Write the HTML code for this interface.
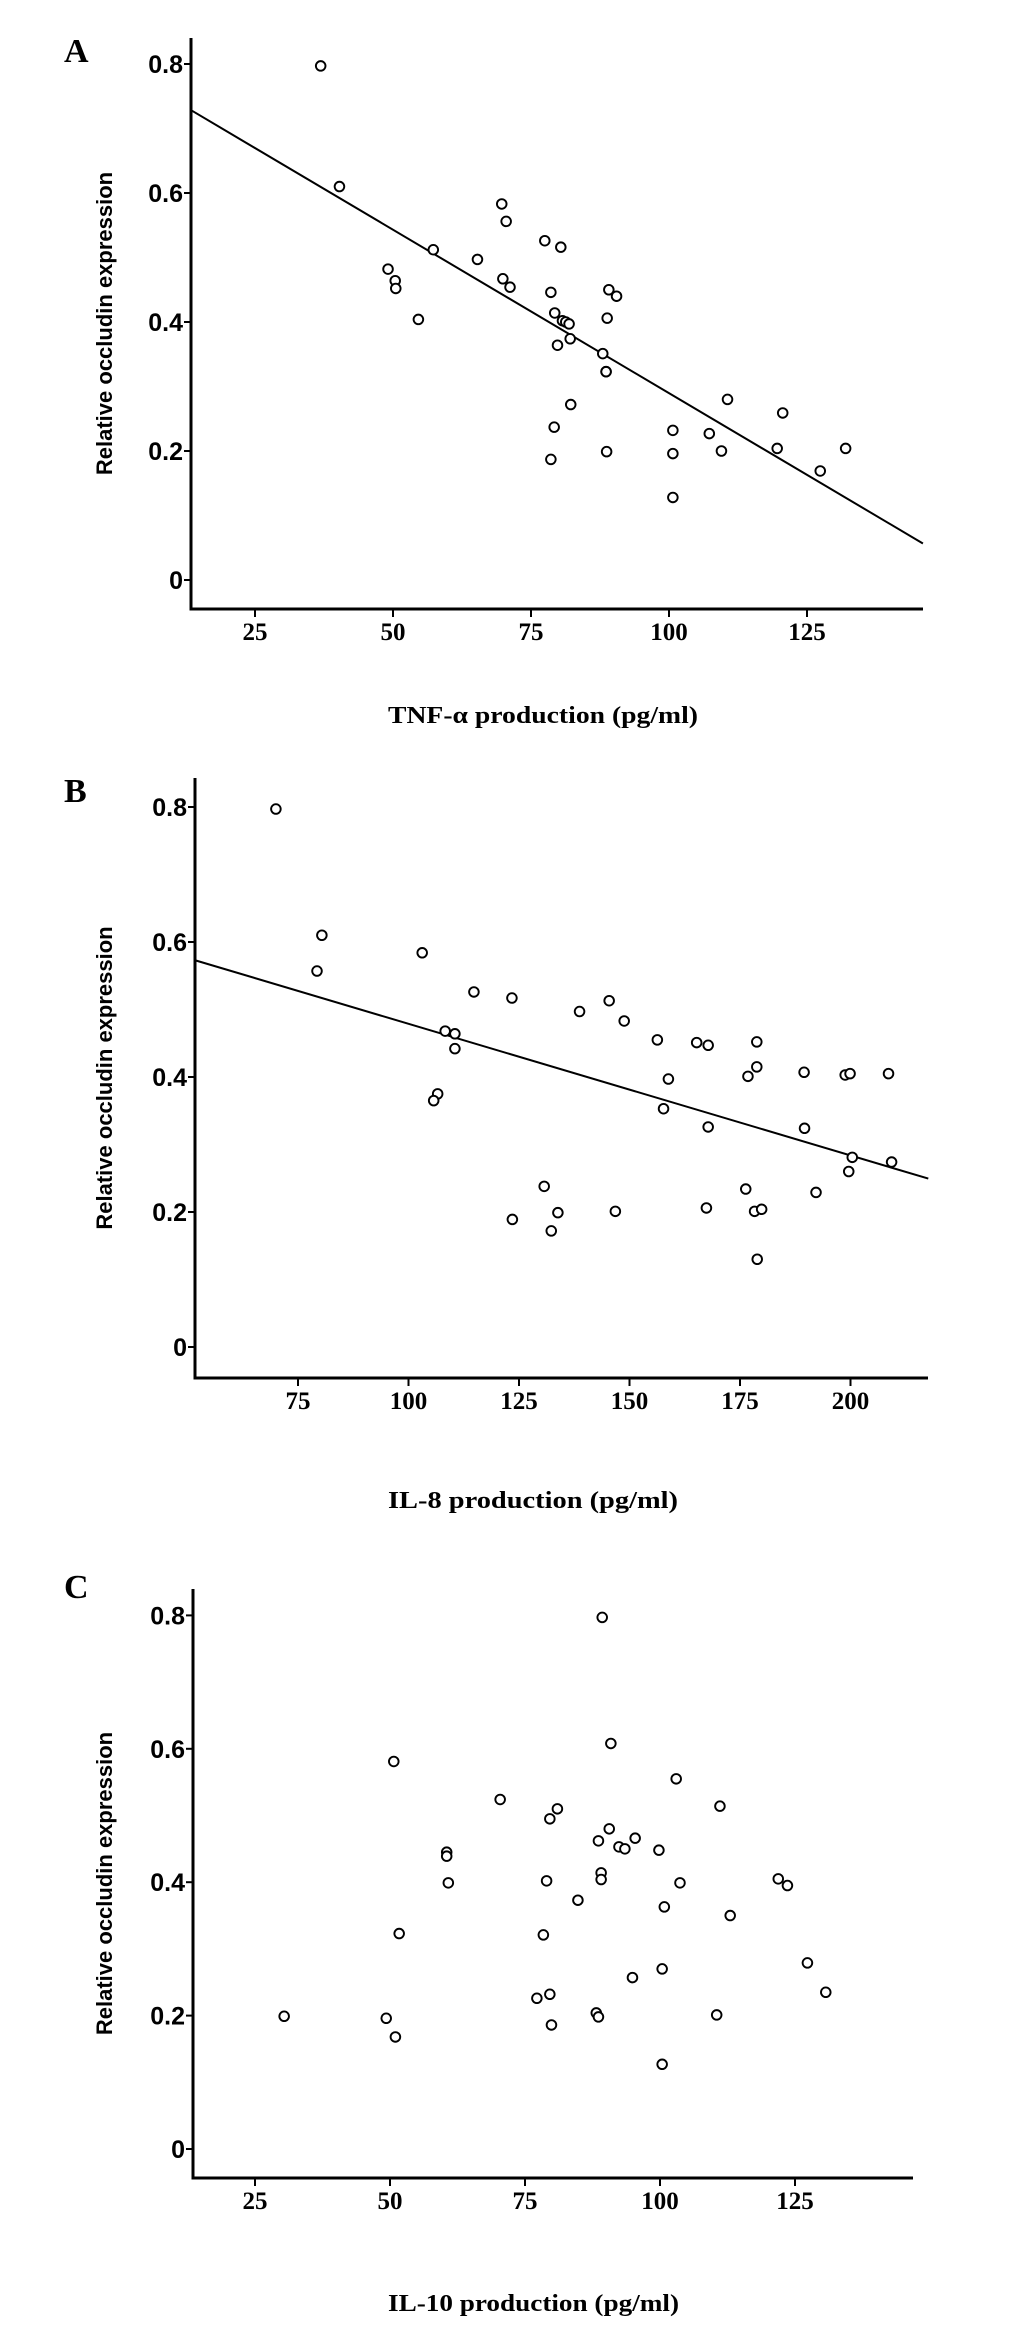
<!DOCTYPE html>
<html><head><meta charset="utf-8"><title>Occludin correlations</title>
<style>
html,body{margin:0;padding:0;background:#fff;}
svg{display:block;}
.tick{font-family:"Liberation Sans",sans-serif;font-weight:bold;font-size:25px;fill:#000;}
.xtick{font-family:"Liberation Serif",serif;font-weight:bold;font-size:25px;fill:#000;}
.ytitle{font-family:"Liberation Sans",sans-serif;font-weight:bold;font-size:22px;fill:#000;}
.xtitle{font-family:"Liberation Serif",serif;font-weight:bold;font-size:24px;fill:#000;}
.letter{font-family:"Liberation Serif",serif;font-weight:bold;font-size:34px;fill:#000;}
</style></head>
<body>
<svg id="fig" width="1033" height="2327" viewBox="0 0 1033 2327" xmlns="http://www.w3.org/2000/svg"></svg>
<script>
// Panel A data: TNF-alpha vs occludin
const xA = [36.9,40.3,49.1,50.4,50.5,54.6,57.3,65.3,69.7,70.5,69.9,71.2,77.5,80.4,78.6,79.3,80.7,81.3,81.9,82.1,79.8,82.2,88.0,88.6,88.6,88.8,89.1,90.5,88.7,100.7,100.7,100.7,107.3,109.5,110.6,120.6,119.6,127.4,132.0,79.2,78.6];
const yA = [0.797,0.610,0.482,0.464,0.452,0.404,0.512,0.497,0.583,0.556,0.467,0.454,0.526,0.516,0.446,0.414,0.402,0.400,0.397,0.374,0.364,0.272,0.351,0.323,0.323,0.406,0.450,0.440,0.199,0.232,0.196,0.128,0.227,0.200,0.280,0.259,0.204,0.169,0.204,0.237,0.187];
const fitA = [0.7964,-0.005067];
const fitRangeA = [13.5,146];
const xTicksA = [25,50,75,100,125];

// Panel B data: IL-8 vs occludin
const xB = [70.0,80.4,79.3,103.1,114.8,123.4,108.3,110.5,110.5,106.6,105.7,130.7,123.5,133.8,132.3,138.7,145.4,148.8,156.3,165.2,167.8,178.8,178.8,176.8,158.8,157.7,189.5,198.8,199.9,208.6,167.8,189.6,200.4,209.3,199.6,176.3,192.2,146.8,167.4,178.3,179.9,178.9];
const yB = [0.797,0.610,0.557,0.584,0.526,0.517,0.468,0.464,0.442,0.375,0.365,0.238,0.189,0.199,0.172,0.497,0.513,0.483,0.455,0.451,0.447,0.452,0.415,0.401,0.397,0.353,0.407,0.403,0.405,0.405,0.326,0.324,0.281,0.274,0.260,0.234,0.229,0.201,0.206,0.201,0.204,0.130];
const fitB = [0.6738,-0.00195];
const fitRangeB = [51.7,217.6];
const xTicksB = [75,100,125,150,175,200];

// Panel C data: IL-10 vs occludin
const xC = [89.3,90.9,103.0,111.1,81.0,79.6,70.4,50.7,90.6,88.6,92.4,93.5,95.4,99.8,60.5,60.5,60.8,89.1,89.1,79.0,103.7,121.9,123.6,84.8,100.8,113.0,51.7,78.4,127.3,100.4,94.9,130.7,79.6,77.2,88.2,88.6,110.5,79.9,30.4,49.3,51.0,100.4];
const yC = [0.797,0.608,0.555,0.514,0.510,0.495,0.524,0.581,0.480,0.462,0.453,0.450,0.466,0.448,0.445,0.439,0.399,0.414,0.404,0.402,0.399,0.405,0.395,0.373,0.363,0.350,0.323,0.321,0.279,0.270,0.257,0.235,0.232,0.226,0.204,0.198,0.201,0.186,0.199,0.196,0.168,0.127];
const xTicksC = [25,50,75,100,125];

const yTicks = [0,0.2,0.4,0.6,0.8];
const yTickLabels = ["0","0.2","0.4","0.6","0.8"];

const NS = "http://www.w3.org/2000/svg";
const svg = document.getElementById('fig');
function mk(tag, attrs, parent){
  const e = document.createElementNS(NS, tag);
  for (const k in attrs) e.setAttribute(k, attrs[k]);
  (parent||svg).appendChild(e);
  return e;
}

const panels = [
  {id:'a', letter:'A', xs:xA, ys:yA, fit:fitA, fitRange:fitRangeA, xticks:xTicksA, xtitle:'TNF-\u03b1 production  (pg/ml)', xtLen:310,
   xRef:25, xRefPx:255, xK:5.52, y0:580, yK:645, left:191, top:38, bottom:609, right:923, letterY:62, titleY:723},
  {id:'b', letter:'B', xs:xB, ys:yB, fit:fitB, fitRange:fitRangeB, xticks:xTicksB, xtitle:'IL-8 production (pg/ml)', xtLen:290,
   xRef:75, xRefPx:298, xK:4.42, y0:1347, yK:675, left:195, top:778, bottom:1378, right:928, letterY:802, titleY:1508},
  {id:'c', letter:'C', xs:xC, ys:yC, fit:null, xticks:xTicksC, xtitle:'IL-10 production (pg/ml)', xtLen:291,
   xRef:25, xRefPx:255, xK:5.4, y0:2149, yK:667, left:193, top:1589, bottom:2178, right:913, letterY:1598, titleY:2311}
];

panels.forEach(p => {
  const sx = v => p.xRefPx + (v - p.xRef) * p.xK;
  const sy = v => p.y0 - v * p.yK;
  const g = mk('g', {});
  
  

  const lt = mk('text', {x:64, y:p.letterY, class:'letter'}, g);
  lt.textContent = p.letter;
  
  

  const ya = mk('line', {x1:p.left, y1:p.top, x2:p.left, y2:p.bottom+1.5, stroke:'#000', 'stroke-width':3}, g);
  
  
  const xa = mk('line', {x1:p.left-1.5, y1:p.bottom, x2:p.right, y2:p.bottom, stroke:'#000', 'stroke-width':3}, g);
  
  

  yTicks.forEach((v, i) => {
    const y = sy(v);
    const tl = mk('line', {x1:p.left-7, y1:y, x2:p.left, y2:y, stroke:'#000', 'stroke-width':2}, g);
    
    
    const t = mk('text', {x:p.left-8, y:y+9, 'text-anchor':'end', class:'tick'}, g);
    t.textContent = yTickLabels[i];
    
    
  });

  p.xticks.forEach(v => {
    const x = sx(v);
    const tl = mk('line', {x1:x, y1:p.bottom, x2:x, y2:p.bottom+8, stroke:'#000', 'stroke-width':2}, g);
    
    
    const t = mk('text', {x:x, y:p.bottom+31, 'text-anchor':'middle', class:'xtick'}, g);
    t.textContent = String(v);
    
    
  });

  const cy = (p.top + p.bottom) / 2;
  const yt = mk('text', {x:0, y:0, 'text-anchor':'middle', class:'ytitle', transform:'translate(112,'+cy+') rotate(-90)'}, g);
  yt.textContent = 'Relative occludin expression';
  
  

  const xt = mk('text', {x:388, y:p.titleY, class:'xtitle', textLength:p.xtLen, lengthAdjust:'spacingAndGlyphs'}, g);
  xt.textContent = p.xtitle;
  
  

  if (p.fit) {
    const a = p.fitRange[0], b = p.fitRange[1];
    const fl = mk('line', {x1:sx(a), y1:sy(p.fit[0]+p.fit[1]*a), x2:sx(b), y2:sy(p.fit[0]+p.fit[1]*b), stroke:'#000', 'stroke-width':2}, g);
    
    
  }

  p.xs.forEach((xv, i) => {
    const c = mk('circle', {cx:sx(xv), cy:sy(p.ys[i]), r:4.8, fill:'#fff', stroke:'#000', 'stroke-width':1.9}, g);
    
    
  });
});
</script>
</body></html>
